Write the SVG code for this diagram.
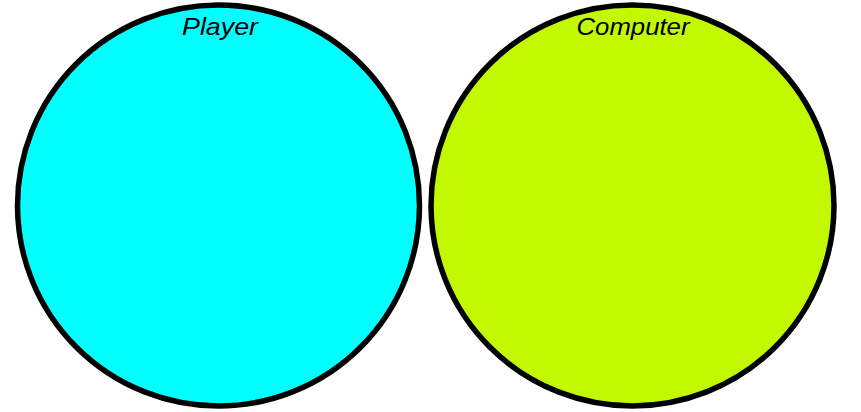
<svg xmlns="http://www.w3.org/2000/svg" width="861" height="412" viewBox="0 0 861 412">
<style>
.c{stroke:#000;stroke-width:5.5}
.t{font-family:"Liberation Sans",Arial,sans-serif;font-style:italic;font-size:24px;fill:#000;text-anchor:middle}
</style>
<rect width="861" height="412" fill="#fff"/>
<g id="player">
<ellipse class="c" cx="218.5" cy="205.5" rx="201" ry="200.5" fill="#00FFFF"/>
<text class="t" x="220" y="35" textLength="76" lengthAdjust="spacingAndGlyphs">Player</text>
</g>
<g id="computer">
<ellipse class="c" cx="632.5" cy="205.5" rx="201.5" ry="200.5" fill="#C2F800"/>
<text class="t" x="633" y="35" textLength="113" lengthAdjust="spacingAndGlyphs">Computer</text>
</g>
<g id="connectors"/>
</svg>
